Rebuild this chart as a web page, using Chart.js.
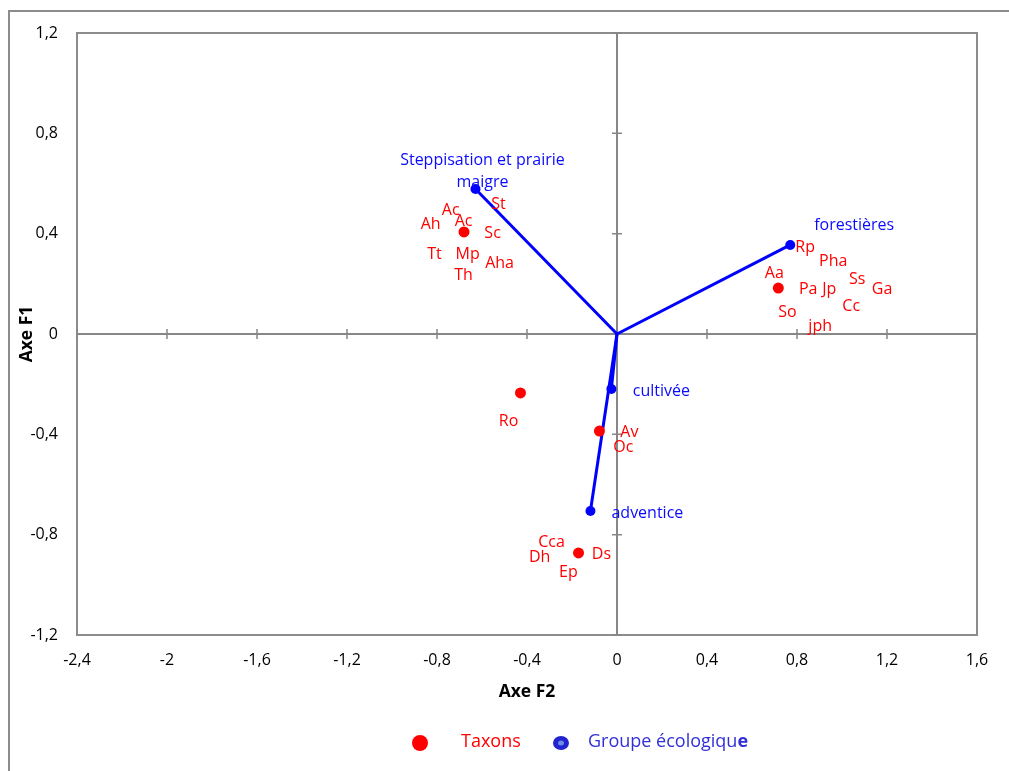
<!DOCTYPE html>
<html>
<head>
<meta charset="utf-8">
<script src="https://cdn.jsdelivr.net/npm/chart.js@4"></script>
<style>
html,body{margin:0;padding:0;background:#fff;}
canvas{display:block;}
</style>
</head>
<body>
<canvas id="c" width="1009" height="771"></canvas>
<script>
// Taxon centroids (red points)
const taxonX = [-0.680, 0.717, -0.429, -0.078, -0.171];
const taxonY = [0.407, 0.183, -0.235, -0.387, -0.873];

// Ecological groups (blue vectors)
const groupLines = [["Steppisation et prairie", "maigre"], ["forestières"], ["cultivée"], ["adventice"]];
const groupX = [-0.629, 0.770, -0.025, -0.118];
const groupY = [0.578, 0.355, -0.219, -0.706];
const groupLabelX = [-0.598, 1.054, 0.197, 0.135];
const groupLabelY = [0.650, 0.431, -0.227, -0.714];

// Taxon abbreviations (text labels)
const taxonNames = ["Ac","Ah","Ac","St","Sc","Tt","Mp","Th","Aha",
  "Rp","Pha","Aa","Ss","Pa","Jp","Ga","Cc","So","jph",
  "Ro","Av","Oc","Cca","Dh","Ds","Ep"];
const taxonLabelX = [-0.739,-0.828,-0.682,-0.527,-0.553,-0.811,-0.664,-0.682,-0.522,
  0.836,0.961,0.699,1.067,0.850,0.943,1.178,1.041,0.757,0.903,
  -0.482,0.055,0.028,-0.291,-0.344,-0.069,-0.216];
const taxonLabelY = [0.494,0.435,0.447,0.518,0.399,0.319,0.319,0.235,0.283,
  0.347,0.291,0.243,0.219,0.179,0.179,0.179,0.108,0.084,0.032,
  -0.347,-0.391,-0.451,-0.829,-0.889,-0.877,-0.949];

const xMin = -2.4, xMax = 1.6, yMin = -1.2, yMax = 1.2, step = 0.4;
const xTitle = "Axe F2", yTitle = "Axe F1";
const legendItems = ["Taxons", "Groupe écologique"];

const FONT = "'Open Sans', 'DejaVu Sans', sans-serif";
const fmt = v => { const r = Math.round(v * 10) / 10; return (r === 0 ? "0" : String(r).replace(".", ",")); };

const datasets = [{
  type: 'scatter',
  data: taxonX.map((x, i) => ({x, y: taxonY[i]})),
  backgroundColor: '#ff0000', borderColor: '#ff0000',
  pointRadius: 5.5, pointHoverRadius: 5.5, borderWidth: 0
}];
groupX.forEach((gx, i) => {
  datasets.push({
    type: 'line',
    data: [{x: 0, y: 0}, {x: gx, y: groupY[i]}],
    borderColor: '#0000ff', backgroundColor: '#0000ff',
    borderWidth: 3, pointRadius: [0, 5], pointHoverRadius: [0, 5],
    pointBorderWidth: 0, fill: false, tension: 0
  });
});

const decor = {
  id: 'decor',
  beforeDatasetsDraw(chart) {
    const {ctx, chartArea: a, scales: {x, y}} = chart;
    ctx.save();
    // outer frame
    ctx.strokeStyle = '#8c8c8c'; ctx.lineWidth = 2;
    ctx.strokeRect(9, 11, 1100, 900);
    // plot frame
    ctx.strokeRect(a.left, a.top, a.right - a.left, a.bottom - a.top);
    // axes through origin
    const x0 = x.getPixelForValue(0), y0 = y.getPixelForValue(0);
    ctx.strokeStyle = '#878787'; ctx.lineWidth = 2;
    ctx.beginPath();
    ctx.moveTo(a.left, y0); ctx.lineTo(a.right, y0);
    ctx.moveTo(x0, a.top); ctx.lineTo(x0, a.bottom);
    ctx.stroke();
    // cross tick marks
    ctx.lineWidth = 1.5;
    ctx.beginPath();
    x.ticks.forEach(t => {
      const px = x.getPixelForValue(t.value);
      ctx.moveTo(px, y0 - 5); ctx.lineTo(px, y0 + 5);
    });
    y.ticks.forEach(t => {
      const py = y.getPixelForValue(t.value);
      ctx.moveTo(x0 - 5, py); ctx.lineTo(x0 + 5, py);
    });
    ctx.stroke();
    ctx.restore();
  },
  afterDatasetsDraw(chart) {
    const {ctx, scales: {x, y}} = chart;
    ctx.save();
    ctx.textAlign = 'center'; ctx.textBaseline = 'middle';
    ctx.font = "16px " + FONT;
    ctx.fillStyle = '#ff0000';
    taxonNames.forEach((n, i) => {
      ctx.fillText(n, x.getPixelForValue(taxonLabelX[i]), y.getPixelForValue(taxonLabelY[i]));
    });
    ctx.fillStyle = '#0a0aff';
    groupLines.forEach((lines, i) => {
      const cx = x.getPixelForValue(groupLabelX[i]);
      const cy = y.getPixelForValue(groupLabelY[i]);
      const lh = 22;
      lines.forEach((l, j) => {
        ctx.fillText(l, cx, cy + (j - (lines.length - 1) / 2) * lh);
      });
    });
    // axis titles
    ctx.fillStyle = '#000';
    ctx.font = "bold 17.5px " + FONT;
    ctx.fillText(xTitle, 527, 692);
    ctx.save();
    ctx.translate(27, 334);
    ctx.rotate(-Math.PI / 2);
    ctx.fillText(yTitle, 0, 0);
    ctx.restore();
    // legend
    ctx.beginPath(); ctx.fillStyle = '#ff0000';
    ctx.arc(420, 743, 8, 0, Math.PI * 2); ctx.fill();
    ctx.font = "18px " + FONT; ctx.textAlign = 'left';
    ctx.fillText(legendItems[0], 461, 742);
    ctx.beginPath(); ctx.fillStyle = '#2323d0';
    ctx.ellipse(561, 743, 8, 7, 0, 0, Math.PI * 2); ctx.fill();
    ctx.beginPath(); ctx.fillStyle = '#6d8de6';
    ctx.ellipse(561, 743, 3, 2.5, 0, 0, Math.PI * 2); ctx.fill();
    ctx.fillStyle = '#3030d8';
    const g = legendItems[1];
    const head = g.slice(0, -1), tail = g.slice(-1);
    ctx.fillText(head, 588, 742);
    const w = ctx.measureText(head).width;
    ctx.font = "bold 18px " + FONT;
    ctx.fillText(tail, 588 + w, 742);
    ctx.restore();
  }
};

new Chart(document.getElementById('c'), {
  data: {datasets},
  options: {
    responsive: false,
    animation: false,
    devicePixelRatio: 1,
    layout: {padding: {left: 0, right: 32, top: 33, bottom: 0}},
    plugins: {legend: {display: false}, tooltip: {enabled: false}},
    scales: {
      x: {
        type: 'linear', position: 'bottom', min: xMin, max: xMax,
        grid: {display: false, drawTicks: false}, border: {display: false},
        ticks: {stepSize: step, padding: 16, color: '#000', font: {family: FONT, size: 16}, maxRotation: 0, callback: v => fmt(v)},
        afterFit: s => { s.height = 136; }
      },
      y: {
        type: 'linear', position: 'left', min: yMin, max: yMax,
        grid: {display: false, drawTicks: false}, border: {display: false},
        ticks: {stepSize: step, padding: 19, color: '#000', font: {family: FONT, size: 16}, callback: v => fmt(v)},
        afterFit: s => { s.width = 77; }
      }
    }
  },
  plugins: [decor]
});
</script>
</body>
</html>
